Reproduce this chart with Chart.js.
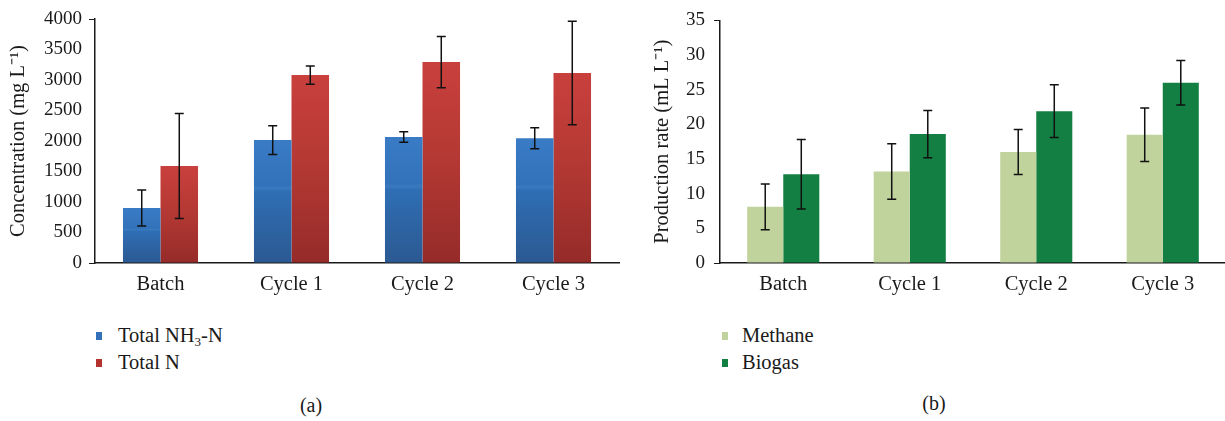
<!DOCTYPE html>
<html>
<head>
<meta charset="utf-8">
<script src="https://cdn.jsdelivr.net/npm/chart.js@4/dist/chart.umd.min.js"></script>
<style>
  html, body { margin: 0; padding: 0; background: #fff; overflow: hidden; }
  body { width: 1225px; height: 421px; position: relative; font-family: "Liberation Serif", serif; color: #1a1a1a; }
  .box { position: absolute; top: 0; height: 300px; }
  #boxA { left: 0; width: 620px; }
  #boxB { left: 620px; width: 608px; }
  .legend { position: absolute; font-size: 20.5px; line-height: 27px; }
  .legend .item { position: relative; white-space: nowrap; }
  .legend .sw { position: absolute; width: 6px; height: 8px; top: 10px; }
  .legend sub { font-size: 13px; vertical-align: -4px; line-height: 0; }
  .cap { position: absolute; font-size: 20px; transform: translateX(-50%); }
</style>
</head>
<body>
<div class="box" id="boxA"><canvas id="chartA"></canvas></div>
<div class="box" id="boxB"><canvas id="chartB"></canvas></div>
<div class="legend" id="legendA" style="left:96px; top:322px;"></div>
<div class="legend" id="legendB" style="left:722px; top:322px;"></div>
<div class="cap" style="left:311px; top:394px;">(a)</div>
<div class="cap" style="left:934px; top:392px;">(b)</div>
<script>
const categories = ['Batch', 'Cycle 1', 'Cycle 2', 'Cycle 3'];

// (a) nitrogen, mg/L
const nh3 = [900, 2015, 2065, 2045];
const nh3Err = [295, 235, 85, 172];
const totalN = [1590, 3080, 3295, 3115];
const totalNErr = [860, 150, 420, 850];

// (b) production rate, mL/L
const methane = [8.1, 13.2, 16.0, 18.5];
const methaneErr = [3.3, 4.0, 3.25, 3.85];
const biogas = [12.8, 18.6, 21.9, 26.0];
const biogasErr = [5.0, 3.4, 3.8, 3.2];

const legendA = ['Total NH<sub>3</sub>-N', 'Total N'];
const legendB = ['Methane', 'Biogas'];

const serif = '"Liberation Serif", "Times New Roman", serif';

// vertical gradient spanning each bar
function barGradient(stops) {
  return (ctx) => {
    const chart = ctx.chart;
    const y = chart.scales.y;
    if (!y || ctx.raw == null) return stops[0][1];
    const top = y.getPixelForValue(ctx.raw);
    const bottom = y.getPixelForValue(0);
    if (!isFinite(top) || !isFinite(bottom) || top === bottom) return stops[0][1];
    const g = chart.ctx.createLinearGradient(0, top, 0, bottom);
    stops.forEach(([p, c]) => g.addColorStop(p, c));
    return g;
  };
}

const errorBars = {
  id: 'errorBars',
  afterDatasetsDraw(chart) {
    const { ctx } = chart;
    const y = chart.scales.y;
    ctx.save();
    ctx.strokeStyle = '#111';
    ctx.lineWidth = 1.5;
    chart.data.datasets.forEach((ds, i) => {
      const meta = chart.getDatasetMeta(i);
      meta.data.forEach((bar, j) => {
        const v = ds.data[j];
        const e = ds.errors[j];
        const hi = y.getPixelForValue(v + e);
        const lo = y.getPixelForValue(v - e);
        ctx.beginPath();
        ctx.moveTo(bar.x, hi);
        ctx.lineTo(bar.x, lo);
        ctx.moveTo(bar.x - 4.5, hi);
        ctx.lineTo(bar.x + 4.5, hi);
        ctx.moveTo(bar.x - 4.5, lo);
        ctx.lineTo(bar.x + 4.5, lo);
        ctx.stroke();
      });
    });
    ctx.restore();
  }
};

function makeChart(id, cfg) {
  return new Chart(document.getElementById(id), {
    type: 'bar',
    data: { labels: categories, datasets: cfg.datasets },
    options: {
      responsive: true,
      maintainAspectRatio: false,
      animation: false,
      layout: { padding: { top: cfg.top, right: cfg.right, left: 0, bottom: 0 } },
      datasets: { bar: { categoryPercentage: cfg.catPct, barPercentage: 1, borderWidth: 0 } },
      scales: {
        x: {
          grid: { display: false },
          border: { display: true, color: '#1a1a1a', width: 1.5 },
          ticks: { color: '#1a1a1a', padding: 1, font: { family: serif, size: 20.5 } },
          afterFit: (s) => { s.height = cfg.xHeight; }
        },
        y: {
          min: 0,
          max: cfg.max,
          ticks: {
            stepSize: cfg.step, color: '#1a1a1a', padding: cfg.tickPad,
            font: { family: serif, size: 19 },
            callback: (v) => String(v)
          },
          grid: {
            drawOnChartArea: false,
            drawTicks: true,
            tickLength: 6,
            color: (c) => (c.index === 0 || c.tick.value === cfg.max) ? '#1a1a1a' : 'rgba(0,0,0,0)'
          },
          border: { display: true, color: '#1a1a1a', width: 1.5 },
          title: {
            display: true,
            text: cfg.title,
            color: '#1a1a1a',
            padding: { top: cfg.titlePad, bottom: 0 },
            font: { family: serif, size: 20.5 }
          },
          afterFit: (s) => { s.width = cfg.yWidth; }
        }
      },
      plugins: { legend: { display: false }, tooltip: { enabled: false } }
    },
    plugins: [errorBars]
  });
}

makeChart('chartA', {
  datasets: [
    {
      label: 'Total NH3-N', data: nh3, errors: nh3Err,
      backgroundColor: barGradient([[0, '#3a7bc6'], [0.37, '#3172ba'], [0.39, '#3b7abf'], [0.42, '#2f6eb4'], [1, '#2b5992']])
    },
    {
      label: 'Total N', data: totalN, errors: totalNErr,
      backgroundColor: barGradient([[0, '#c9403d'], [0.5, '#b33833'], [1, '#952b29']])
    }
  ],
  max: 4000, step: 500, top: 19, right: 1, xHeight: 37, yWidth: 95,
  catPct: 0.573, tickPad: 7, titlePad: 6,
  title: 'Concentration (mg L⁻¹)'
});

makeChart('chartB', {
  datasets: [
    { label: 'Methane', data: methane, errors: methaneErr, backgroundColor: '#c1d39c' },
    { label: 'Biogas', data: biogas, errors: biogasErr, backgroundColor: '#137f43' }
  ],
  max: 35, step: 5, top: 16, right: 2, xHeight: 37, yWidth: 100,
  catPct: 0.57, tickPad: 9, titlePad: 30,
  title: 'Production rate (mL L⁻¹)'
});

function buildLegend(id, labels, colors) {
  const el = document.getElementById(id);
  labels.forEach((txt, i) => {
    const row = document.createElement('div');
    row.className = 'item';
    row.innerHTML = '<span class="sw" style="left:0;background:' + colors[i] + '"></span>' +
      '<span style="margin-left:' + (id === 'legendA' ? 22 : 20) + 'px">' + txt + '</span>';
    el.appendChild(row);
  });
}
buildLegend('legendA', legendA, ['#3371bb', '#b5332f']);
buildLegend('legendB', legendB, ['#c1d39c', '#137f43']);
</script>
</body>
</html>
